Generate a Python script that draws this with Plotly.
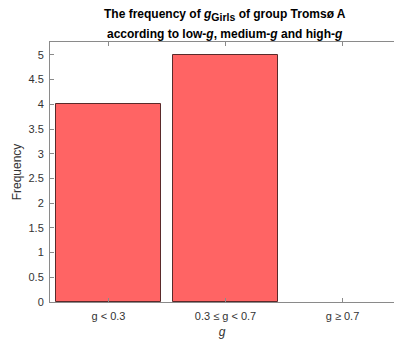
import plotly.graph_objects as go

# Frequency of g for girls, group Tromsø A, by g band
categories = ["g < 0.3", "0.3 ≤ g < 0.7", "g ≥ 0.7"]
positions = [1, 2, 3]
frequency = [4, 5, 0]
y_ticks = [0, 0.5, 1, 1.5, 2, 2.5, 3, 3.5, 4, 4.5, 5]

W, H = 394, 340
M_L, M_R, M_T, M_B = 50, 0, 42, 38
plot_h = H - M_T - M_B
axis_col = "#8a8a8a"
text_col = "#333333"
font = "Liberation Sans, Arial, Helvetica, sans-serif"

fig = go.Figure(
    go.Bar(
        x=positions,
        y=frequency,
        width=0.9,
        marker=dict(
            color="#FF6464",
            line=dict(color="#5a2a2a", width=[1 if v > 0 else 0 for v in frequency]),
        ),
        showlegend=False,
    )
)

title_lines = [
    ("The frequency of <i>g</i><sub><span style='font-size:10.5px'>Girls</span></sub>"
     " of group Tromsø A", 15),
    ("according to low-<i>g</i>, medium-<i>g</i> and high-<i>g</i>", 34),
]
annotations = [
    dict(
        text=txt,
        xref="paper",
        yref="paper",
        x=(225 - M_L) / (W - M_L - M_R),
        y=1 + (M_T - yc) / plot_h,
        xanchor="center",
        yanchor="middle",
        showarrow=False,
        font=dict(family=font, size=12, color="black", weight="bold"),
    )
    for txt, yc in title_lines
]

fig.update_layout(
    width=W,
    height=H,
    margin=dict(l=M_L, r=M_R, t=M_T, b=M_B),
    paper_bgcolor="white",
    plot_bgcolor="white",
    font=dict(family=font, size=11, color=text_col),
    annotations=annotations,
    bargap=0,
)

fig.update_xaxes(
    range=[0.5, 0.5 + (W - M_L - M_R) / 117],
    tickvals=positions,
    ticktext=categories,
    ticks="inside",
    ticklen=4,
    tickcolor=axis_col,
    showline=True,
    linecolor=axis_col,
    linewidth=1,
    mirror="ticks",
    showgrid=False,
    zeroline=False,
    ticklabelstandoff=4,
    tickfont=dict(size=11, color=text_col),
    title=dict(text="<i>g</i>", font=dict(size=12, color=text_col), standoff=6),
)

fig.update_yaxes(
    range=[0, 5.26],
    tickvals=y_ticks,
    ticktext=[f"{v:g}" for v in y_ticks],
    ticks="inside",
    ticklen=4,
    tickcolor=axis_col,
    showline=True,
    linecolor=axis_col,
    linewidth=1,
    showgrid=False,
    zeroline=False,
    ticklabelstandoff=3,
    tickfont=dict(size=11, color=text_col),
    title=dict(text="Frequency", font=dict(size=12, color=text_col), standoff=4),
)

fig.write_html("out.html")
